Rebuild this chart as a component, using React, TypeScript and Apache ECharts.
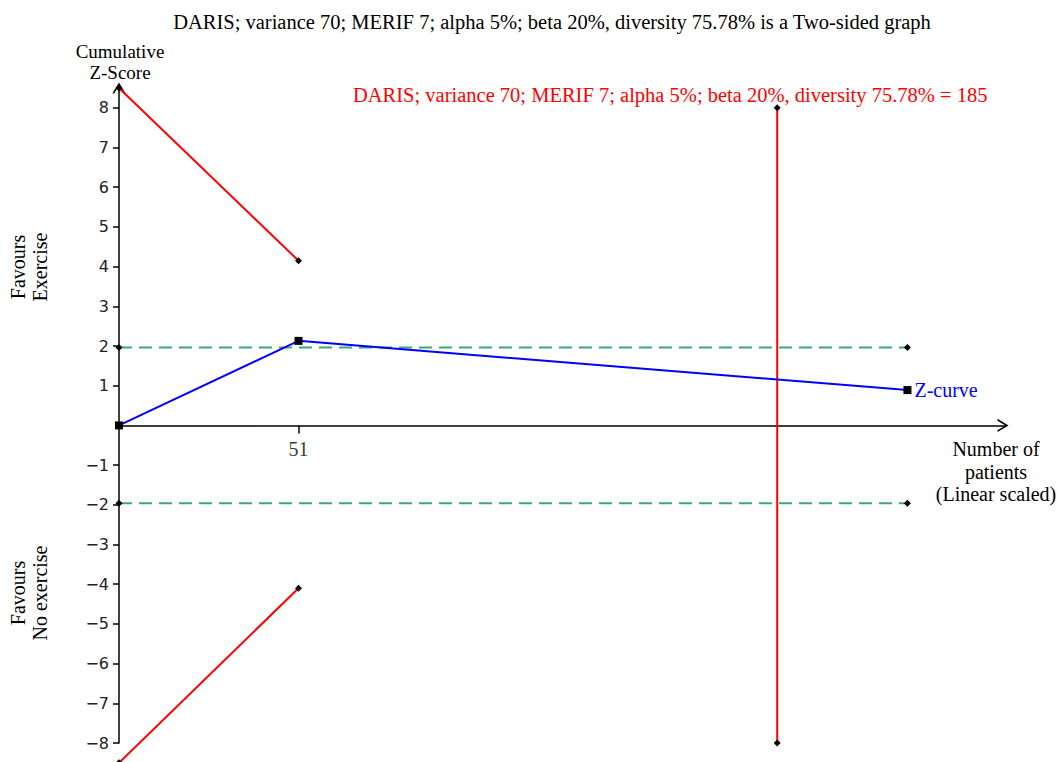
import React, { useEffect, useRef } from "react";
import * as echarts from "echarts";

// ---- data ----
const zCurve: [number, number][] = [
  [0, 0],
  [51, 2.13],
  [224, 0.89],
];
const upperBoundary: [number, number][] = [
  [0, 8.5],
  [51, 4.15],
];
const lowerBoundary: [number, number][] = [
  [0, -8.5],
  [51, -4.1],
];
const conventionalUpper: [number, number][] = [
  [0, 1.96],
  [224, 1.96],
];
const conventionalLower: [number, number][] = [
  [0, -1.96],
  [224, -1.96],
];
const risLine: [number, number][] = [
  [187, -8],
  [187, 8],
];
const yTickValues = [-8, -7, -6, -5, -4, -3, -2, -1, 1, 2, 3, 4, 5, 6, 7, 8];
const xTickValues = [51];

const titleText =
  "DARIS; variance 70; MERIF 7; alpha 5%; beta 20%, diversity 75.78% is a Two-sided graph";
const risText =
  "DARIS; variance 70; MERIF 7; alpha 5%; beta 20%, diversity 75.78% = 185";

const SERIF = "'Liberation Serif', 'Times New Roman', serif";
const SANS = "'DejaVu Sans', Verdana, sans-serif";
const ARROW = "path://M0,10 L6,0 L12,10 L10.3,10 L6,2.8 L1.7,10 Z";

export default function App() {
  const ref = useRef<HTMLDivElement>(null);
  useEffect(() => {
    if (!ref.current) return;
    const chart = echarts.init(ref.current, null, { renderer: "svg" });
    const txt = (text: string, x: number, y: number, opts: any = {}) => ({
      type: "text",
      x,
      y,
      rotation: opts.rotation || 0,
      style: {
        text,
        fill: opts.fill || "#000",
        fontFamily: SERIF,
        fontSize: opts.fontSize || 20,
        align: opts.align || "center",
        verticalAlign: "middle",
      },
    });
    const diamond = { symbol: "diamond", symbolSize: 7 };
    chart.setOption({
      animation: false,
      grid: {
        left: 119,
        top: 88,
        width: 887,
        height: 655,
        containLabel: false,
        outerBoundsMode: "none",
      },
      xAxis: {
        type: "value",
        min: 0,
        max: 252,
        splitLine: { show: false },
        axisLine: {
          onZero: true,
          lineStyle: { color: "#000", width: 1.5 },
          symbol: ["none", ARROW],
          symbolSize: [17, 11],
          symbolOffset: [0, -3],
        },
        axisTick: {
          show: true,
          customValues: xTickValues,
          length: 8,
          lineStyle: { color: "#000", width: 1.5 },
        },
        axisLabel: { show: false },
      },
      yAxis: {
        type: "value",
        min: -8,
        max: 8.5,
        interval: 1,
        splitLine: { show: false },
        axisLine: {
          lineStyle: { color: "#000", width: 1.5 },
          symbol: ["none", ARROW],
          symbolSize: [16, 11],
        },
        axisTick: {
          show: true,
          customValues: yTickValues,
          length: 6,
          lineStyle: { color: "#000", width: 1.5 },
        },
        axisLabel: {
          customValues: yTickValues,
          margin: 10,
          color: "#222",
          fontFamily: SANS,
          fontSize: 16,
          formatter: (v: number) => (v < 0 ? "\u2212" + Math.abs(v) : String(v)),
        },
      },
      series: [
        {
          type: "line",
          data: conventionalUpper,
          ...diamond,
          clip: false,
          itemStyle: { color: "#000" },
          lineStyle: { color: "#3aaa78", width: 2, type: [13, 7] },
          z: 2,
        },
        {
          type: "line",
          data: conventionalLower,
          ...diamond,
          clip: false,
          itemStyle: { color: "#000" },
          lineStyle: { color: "#3aaa78", width: 2, type: [13, 7] },
          z: 2,
        },
        {
          type: "line",
          data: upperBoundary,
          ...diamond,
          clip: false,
          itemStyle: { color: "#000" },
          lineStyle: { color: "#ff0000", width: 2 },
          z: 3,
        },
        {
          type: "line",
          data: lowerBoundary,
          ...diamond,
          clip: false,
          itemStyle: { color: "#000" },
          lineStyle: { color: "#ff0000", width: 2 },
          z: 3,
        },
        {
          type: "line",
          data: risLine,
          ...diamond,
          clip: false,
          itemStyle: { color: "#000" },
          lineStyle: { color: "#ff0000", width: 2 },
          z: 3,
        },
        {
          type: "line",
          data: zCurve,
          symbol: "rect",
          symbolSize: 8,
          clip: false,
          itemStyle: { color: "#000" },
          lineStyle: { color: "#0000ff", width: 2 },
          z: 4,
          label: {
            show: true,
            position: "right",
            distance: 3,
            color: "#0000ff",
            fontFamily: SERIF,
            fontSize: 20,
            formatter: (p: any) => (p.dataIndex === zCurve.length - 1 ? "Z-curve" : ""),
          },
        },
        {
          type: "scatter",
          data: xTickValues.map((v) => [v, 0]),
          symbolSize: 0,
          silent: true,
          clip: false,
          label: {
            show: true,
            position: "bottom",
            distance: 14,
            color: "#000",
            fontFamily: SERIF,
            fontSize: 20,
            formatter: (p: any) => String(p.value[0]),
          },
        },
      ],
      graphic: [
        txt(titleText, 552, 22, { fontSize: 20.5 }),
        txt("Cumulative", 120, 51, { fontSize: 19 }),
        txt("Z-Score", 120, 72, { fontSize: 19 }),
        txt(risText, 353, 95, { fill: "#ff0000", align: "left", fontSize: 20.5 }),
        txt("Number of", 996, 449),
        txt("patients", 996, 472),
        txt("(Linear scaled)", 996, 494),
        txt("Favours", 18, 267, { rotation: Math.PI / 2 }),
        txt("Exercise", 40, 267, { rotation: Math.PI / 2 }),
        txt("Favours", 18, 593, { rotation: Math.PI / 2 }),
        txt("No exercise", 40, 593, { rotation: Math.PI / 2 }),
      ],
    });
    return () => chart.dispose();
  }, []);
  return (
    <div
      ref={ref}
      style={{ position: "absolute", left: 0, top: 0, width: 1057, height: 762, background: "#fff" }}
    />
  );
}
